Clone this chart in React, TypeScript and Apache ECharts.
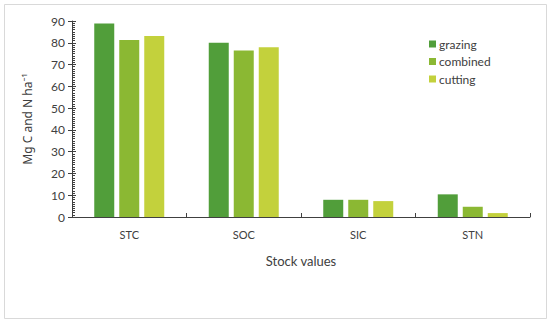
import React, { useEffect, useRef } from "react";
import * as echarts from "echarts";

const categories = ["STC", "SOC", "SIC", "STN"];
const seriesNames = ["grazing", "combined", "cutting"];
const grazing = [88.9, 80.0, 7.9, 10.4];
const combined = [81.3, 76.4, 7.9, 4.7];
const cutting = [83.1, 78.0, 7.3, 1.8];
const colors = ["#519E3A", "#8BB833", "#C3D13C"];
const yMin = 0;
const yMax = 90;
const yInterval = 10;

const FONT = "Lato, 'Open Sans', sans-serif";

export default function App() {
  const ref = useRef<HTMLDivElement>(null);
  useEffect(() => {
    if (!ref.current) return;
    const chart = echarts.init(ref.current, undefined, { renderer: "svg" });
    const values = [grazing, combined, cutting];
    chart.setOption({
      animation: false,
      backgroundColor: "#ffffff",
      textStyle: { fontFamily: FONT },
      graphic: [
        {
          type: "rect",
          shape: { x: 4.5, y: 4.5, width: 542, height: 314 },
          style: { fill: "none", stroke: "#d9d9d9", lineWidth: 1 },
          silent: true,
          z: -1,
        },
      ],
      legend: {
        orient: "vertical",
        left: 424,
        top: 33,
        itemWidth: 7,
        itemHeight: 7,
        itemGap: 5.5,
        icon: "rect",
        data: seriesNames,
        textStyle: { fontFamily: FONT, fontSize: 12, color: "#404040", padding: [0, 0, 0, -2] },
      },
      grid: { left: 72, right: 20, top: 21, bottom: 109 },
      xAxis: {
        type: "category",
        data: categories,
        name: "Stock values",
        nameLocation: "middle",
        nameGap: 37,
        nameTextStyle: { fontFamily: FONT, fontSize: 13, color: "#404040" },
        axisLine: { show: true, lineStyle: { color: "#404040", width: 1 } },
        axisTick: { show: true, inside: true, length: 4, alignWithLabel: false, lineStyle: { color: "#404040" } },
        axisLabel: { fontFamily: FONT, fontSize: 11, color: "#404040", margin: 12 },
      },
      yAxis: [
        {
          type: "value",
          min: yMin,
          max: yMax,
          interval: yInterval,
          name: "Mg C and N ha\u207B\u00B9",
          nameLocation: "middle",
          nameGap: 39,
          nameTextStyle: { fontFamily: "'Noto Sans', sans-serif", fontSize: 12, color: "#404040" },
          axisLine: { show: true, lineStyle: { color: "#404040", width: 1 } },
          axisTick: { show: true, inside: false, length: 4, lineStyle: { color: "#404040" } },
          axisLabel: { fontFamily: FONT, fontSize: 12, color: "#404040", margin: 7 },
          splitLine: { show: false },
        },
        {
          type: "value",
          position: "left",
          offset: 0,
          min: yMin,
          max: yMax,
          interval: yInterval,
          axisLine: { show: false },
          axisTick: { show: true, inside: true, length: 4, lineStyle: { color: "#404040" } },
          minorTick: { show: true, splitNumber: 10, length: 3, lineStyle: { color: "#404040" } },
          axisLabel: { show: false },
          splitLine: { show: false },
        },
      ],
      series: seriesNames.map((name, i) => ({
        name,
        type: "bar",
        yAxisIndex: 0,
        data: values[i],
        barWidth: 20,
        barGap: "25%",
        itemStyle: { color: colors[i] },
      })),
    });
    return () => chart.dispose();
  }, []);
  return (
    <div
      ref={ref}
      style={{ position: "fixed", left: 0, top: 0, width: 550, height: 326 }}
    />
  );
}
